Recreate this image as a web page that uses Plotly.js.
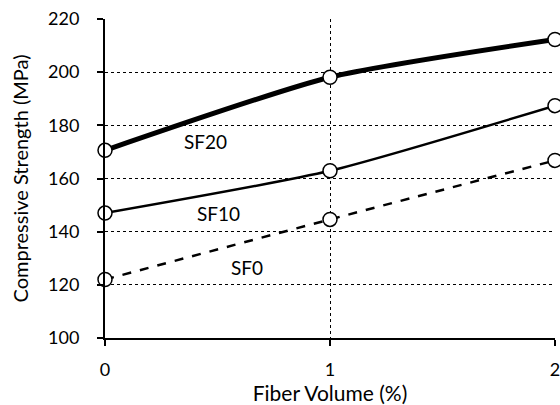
<!DOCTYPE html>
<html>
<head>
<meta charset="utf-8">
<script src="https://cdn.plot.ly/plotly-3.0.1.min.js"></script>
<style>html,body{margin:0;padding:0;background:#fff;}#chart{width:560px;height:405px;}</style>
</head>
<body>
<div id="chart"></div>
<script>
const fiberVolume = [0, 1, 2];
const sf0 = [122, 144.6, 166.8];
const sf10 = [147, 162.9, 187.4];
const sf20 = [170.6, 198.1, 212.3];
const seriesNames = ['SF0', 'SF10', 'SF20'];
const xTicks = [0, 1, 2];
const yTicks = [100, 120, 140, 160, 180, 200, 220];
const labelPos = {SF20: [0.445, 173.8], SF10: [0.505, 146.8], SF0: [0.63, 126.6]};

const FONT = 'Lato, "Open Sans", sans-serif';
const marker = {symbol: 'circle', size: 14, color: '#ffffff', line: {color: '#000000', width: 1.5}};
function tr(y, name, width, dash) {
  return {x: fiberVolume, y: y, name: name, type: 'scatter', mode: 'lines+markers',
    line: {color: '#000000', width: width, dash: dash, shape: 'spline', smoothing: 0.6},
    marker: marker, cliponaxis: false, showlegend: false};
}
const data = [
  tr(sf0, seriesNames[0], 2.5, 'dash'),
  tr(sf10, seriesNames[1], 2.5, 'solid'),
  tr(sf20, seriesNames[2], 5, 'solid')
];
const annotations = seriesNames.map(n => ({x: labelPos[n][0], y: labelPos[n][1], text: n,
  showarrow: false, font: {family: FONT, size: 19, color: '#000'}, xanchor: 'center', yanchor: 'middle'}));

const layout = {
  width: 560, height: 405,
  margin: {l: 105, r: 5, t: 19, b: 67},
  paper_bgcolor: '#ffffff', plot_bgcolor: '#ffffff',
  font: {family: FONT, color: '#000'},
  xaxis: {range: [0, 2], tickvals: xTicks, ticktext: xTicks.map(String),
    showline: true, linecolor: '#000', linewidth: 2,
    ticks: 'outside', ticklen: 6, tickwidth: 2, tickcolor: '#000',
    showgrid: true, gridcolor: '#000', gridwidth: 1, griddash: 'dot',
    zeroline: false, tickfont: {family: FONT, size: 18}, ticklabelstandoff: 8,
    ticklabeloverflow: 'allow',
    title: {text: 'Fiber Volume (%)', font: {family: FONT, size: 21}, standoff: 5}},
  yaxis: {range: [100, 220], tickvals: yTicks, ticktext: yTicks.map(String),
    showline: true, linecolor: '#000', linewidth: 2,
    ticks: 'outside', ticklen: 6, tickwidth: 2, tickcolor: '#000',
    showgrid: true, gridcolor: '#000', gridwidth: 1, griddash: 'dot',
    zeroline: false, tickfont: {family: FONT, size: 18}, ticklabelstandoff: 14,
    title: {text: 'Compressive Strength (MPa)', font: {family: FONT, size: 20}, standoff: 14}},
  annotations: annotations
};
Plotly.newPlot('chart', data, layout, {displayModeBar: false, staticPlot: true});
</script>
</body>
</html>
